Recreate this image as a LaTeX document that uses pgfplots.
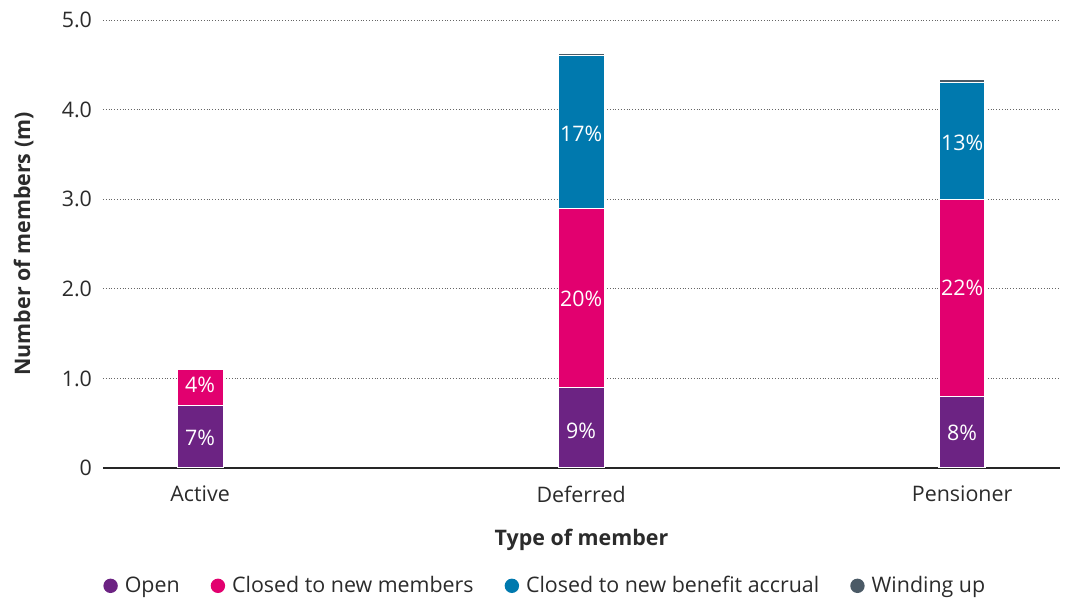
\documentclass[border=0pt]{standalone}
\usepackage{pgfplots}
\pgfplotsset{compat=1.18}
\usepackage{fontspec}
\setmainfont{Open Sans}
\definecolor{cOpen}{HTML}{6C2383}
\definecolor{cClosed}{HTML}{E2006F}
\definecolor{cAccr}{HTML}{0079AE}
\definecolor{cWind}{HTML}{4B5A66}
\definecolor{txt}{HTML}{2B2B2B}
\tikzset{pct/.style={text=white}}
\begin{document}
\begin{tikzpicture}[font=\fontsize{10.7}{12.7}\selectfont]
\begin{axis}[
  name=ax,
  scale only axis, width=478.5pt, height=224pt,
  ybar stacked, bar width=23pt,
  xmin=-0.255, xmax=2.257, ymin=0, ymax=5,
  xtick={0,1,2}, xticklabels={Active,Deferred,Pensioner},
  ytick={0,1,2,3,4,5}, yticklabels={0,1.0,2.0,3.0,4.0,5.0},
  major tick length=0pt,
  axis x line*=bottom, axis y line*=left,
  y axis line style={draw=none},
  x axis line style={draw=black!85, line width=0.8pt},
  ymajorgrids, grid style={densely dotted, black!60, line width=0.4pt},
  /pgf/number format/assume math mode=true,
  tick label style={text=txt},
  xticklabel style={yshift=-5.5pt},
  yticklabel style={xshift=-2pt},
  xlabel={\textbf{Type of member}},
  xlabel style={at={(axis description cs:0.5,-0.161)}, anchor=center, text=txt},
  ylabel={\textbf{Number of members (m)}},
  ylabel style={at={(axis description cs:-0.083,0.5)}, anchor=center, text=txt},
  legend image code/.code={\fill[#1,draw=none] (0.1cm,0cm) circle (3.6pt);},
  legend style={at={(axis description cs:0.0,-0.263)}, anchor=west,
    legend columns=-1, draw=none, fill=none, inner sep=0pt,
    /tikz/every even column/.append style={column sep=12pt},
    nodes={inner ysep=2pt, inner xsep=3.5pt, text=txt}},
]
\addplot[fill=cOpen, draw=white, line width=0.6pt] coordinates {(0,0.7) (1,0.9) (2,0.8)};
\addlegendentry{Open}
\addplot[fill=cClosed, draw=white, line width=0.6pt] coordinates {(0,0.4) (1,2.0) (2,2.2)};
\addlegendentry{Closed to new members}
\addplot[fill=cAccr, draw=white, line width=0.6pt] coordinates {(0,0) (1,1.7) (2,1.3)};
\addlegendentry{Closed to new benefit accrual}
\addplot[fill=cWind, draw=white, line width=0.6pt] coordinates {(0,0) (1,0.025) (2,0.035)};
\addlegendentry{Winding up}
\coordinate (p1) at (axis cs:0,0.335);
\coordinate (p2) at (axis cs:0,0.93);
\coordinate (p3) at (axis cs:1,0.42);
\coordinate (p4) at (axis cs:1,1.89);
\coordinate (p5) at (axis cs:1,3.73);
\coordinate (p6) at (axis cs:2,0.39);
\coordinate (p7) at (axis cs:2,2.01);
\coordinate (p8) at (axis cs:2,3.63);
\end{axis}
\node[pct] at (p1) {7\%};
\node[pct] at (p2) {4\%};
\node[pct] at (p3) {9\%};
\node[pct] at (p4) {20\%};
\node[pct] at (p5) {17\%};
\node[pct] at (p6) {8\%};
\node[pct] at (p7) {22\%};
\node[pct] at (p8) {13\%};
\pgfresetboundingbox
\path[use as bounding box] ([xshift=-51.5pt,yshift=-66pt]ax.south west) rectangle ([xshift=3.5pt,yshift=10pt]ax.north east);
\end{tikzpicture}
\end{document}
